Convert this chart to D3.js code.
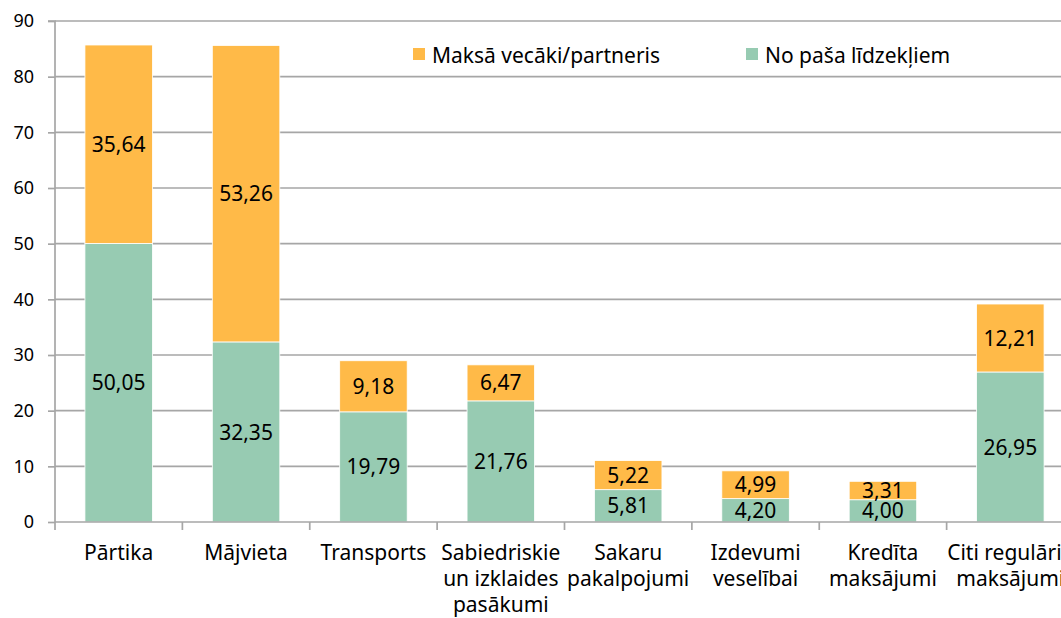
<html lang="lv">
<head>
<meta charset="utf-8">
<script src="https://cdn.jsdelivr.net/npm/d3@7/dist/d3.min.js"></script>
<style>
body{margin:0;background:#fff;}
svg{display:block;font-family:"Noto Sans",sans-serif;}
</style>
</head>
<body>
<div id="chart"></div>
<script>
const categories = [["Pārtika"],["Mājvieta"],["Transports"],["Sabiedriskie","un izklaides","pasākumi"],["Sakaru","pakalpojumi"],["Izdevumi","veselībai"],["Kredīta","maksājumi"],["Citi regulārie","maksājumi"]]
const ownFunds = [50.05,32.35,19.79,21.76,5.81,4.20,4.00,26.95]
const parentsPay = [35.64,53.26,9.18,6.47,5.22,4.99,3.31,12.21]
const seriesNames = ["Maksā vecāki/partneris","No paša līdzekļiem"]
const yTicks = [0,10,20,30,40,50,60,70,80,90]

const W=1061, H=618
const colOrange="#FFBA48", colGreen="#97CBB2", gridCol="#A6A6A6"
const mLeft=55, mTop=21, mBottom=522, mRight=1074
const fs=21

const svg=d3.select("#chart").append("svg").attr("width",W).attr("height",H)

const x=d3.scaleBand().domain(d3.range(categories.length)).range([mLeft,mRight]).paddingInner(0.47).paddingOuter(0.235)
const xb=d3.scaleBand().domain(d3.range(categories.length)).range([mLeft,mRight])
const y=d3.scaleLinear().domain([0,90]).range([mBottom,mTop])

// gridlines
svg.append("g").selectAll("line").data(yTicks.slice(1)).join("line")
  .attr("x1",mLeft).attr("x2",W).attr("y1",d=>y(d)).attr("y2",d=>y(d))
  .attr("stroke",gridCol).attr("stroke-width",1.7)

// y axis
const ya=svg.append("g").attr("transform",`translate(${mLeft},0)`)
  .call(d3.axisLeft(y).tickValues(yTicks).tickSize(7).tickPadding(14))
ya.select(".domain").attr("stroke",gridCol).attr("stroke-width",1.7).attr("d",`M-7,${mTop}H0V${mBottom}`)
ya.selectAll(".tick line").attr("stroke",gridCol).attr("stroke-width",1.7)
ya.selectAll(".tick text").attr("font-size",18).attr("fill","#000").attr("font-family","Noto Sans")

// stacked bars
const stack=categories.map((c,i)=>[{v:ownFunds[i],y0:0,y1:ownFunds[i],c:colGreen,i},{v:parentsPay[i],y0:ownFunds[i],y1:ownFunds[i]+parentsPay[i],c:colOrange,i}]).flat()
const bars=svg.append("g")
bars.selectAll("rect").data(stack).join("rect")
  .attr("x",d=>x(d.i)).attr("width",x.bandwidth())
  .attr("y",d=>y(d.y1)).attr("height",d=>y(d.y0)-y(d.y1))
  .attr("fill",d=>d.c).attr("stroke","#fff").attr("stroke-width",0.8)
bars.selectAll("text").data(stack).join("text")
  .attr("x",d=>x(d.i)+x.bandwidth()/2).attr("y",d=>y((d.y0+d.y1)/2))
  .attr("text-anchor","middle").attr("dy","0.36em").attr("font-size",fs)
  .text(d=>d.v.toFixed(2).replace(".",","))

// x axis
svg.append("line").attr("x1",mLeft).attr("x2",W).attr("y1",mBottom).attr("y2",mBottom).attr("stroke",gridCol).attr("stroke-width",1.7)
svg.append("g").selectAll("line").data(d3.range(categories.length+1)).join("line")
  .attr("x1",d=>mLeft+d*xb.bandwidth()).attr("x2",d=>mLeft+d*xb.bandwidth())
  .attr("y1",mBottom).attr("y2",mBottom+8).attr("stroke",gridCol).attr("stroke-width",1.7)
const cl=svg.append("g").selectAll("text").data(categories).join("text")
  .attr("x",(d,i)=>xb(i)+xb.bandwidth()/2).attr("y",560).attr("text-anchor","middle").attr("font-size",fs)
cl.selectAll("tspan").data(d=>d).join("tspan")
  .attr("x",function(){return this.parentNode.getAttribute("x")}).attr("dy",(d,i)=>i?26:0).text(d=>d)

// legend
const leg=[{n:seriesNames[0],c:colOrange,x:413},{n:seriesNames[1],c:colGreen,x:746}]
const lg=svg.append("g").selectAll("g").data(leg).join("g").attr("transform",d=>`translate(${d.x},48)`)
lg.append("rect").attr("width",12).attr("height",12).attr("fill",d=>d.c)
lg.append("text").attr("x",19).attr("y",7).attr("dy","0.36em").attr("font-size",fs).text(d=>d.n)
</script>
</body>
</html>
